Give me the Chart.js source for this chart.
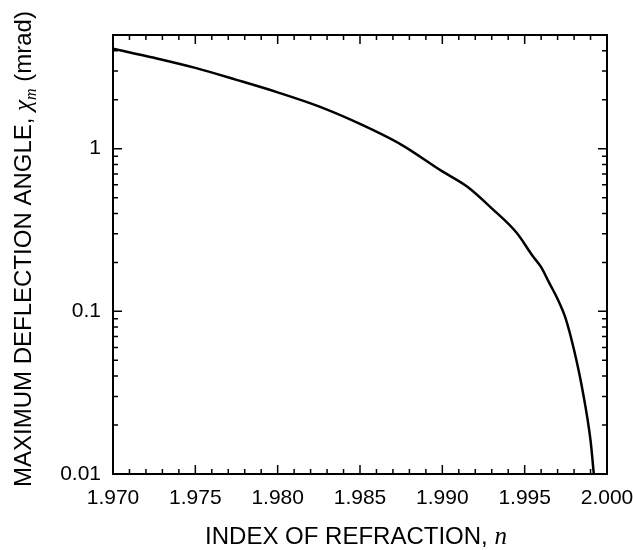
<!DOCTYPE html>
<html>
<head>
<meta charset="utf-8">
<script src="https://cdn.jsdelivr.net/npm/chart.js@4.4.0/dist/chart.umd.min.js"></script>
<style>
  body { margin: 0; background: #fff; }
</style>
</head>
<body>
<canvas id="myChart" width="633" height="550"></canvas>
<script>
// values
let refractionIndex = [1.970, 1.9725, 1.975, 1.9775, 1.980, 1.9825, 1.985, 1.9875, 1.990, 1.9915, 1.993, 1.9945, 1.9955, 1.996, 1.9965, 1.997, 1.9975, 1.998, 1.9985, 1.999, 1.9992];
let deflectionAngle = [4.12, 3.62, 3.14, 2.65, 2.22, 1.82, 1.42, 1.06, 0.725, 0.585, 0.43, 0.305, 0.218, 0.187, 0.149, 0.119, 0.0897, 0.0578, 0.0333, 0.0161, 0.0100];
let xTickLabels = [1.970, 1.975, 1.980, 1.985, 1.990, 1.995, 2.000];
let yTickLabels = [0.01, 0.1, 1];

let tickFont = { family: '"Liberation Sans", Arial, sans-serif', size: 21 };

// box, inward ticks on all four sides, and the axis titles
let frameTicks = {
  id: 'frameTicks',
  afterDatasetsDraw(chart) {
    let ctx = chart.ctx, a = chart.chartArea;
    let xs = chart.scales.x, ys = chart.scales.y;
    ctx.save();
    ctx.strokeStyle = '#000';
    ctx.lineWidth = 2;
    ctx.strokeRect(a.left, a.top, a.right - a.left, a.bottom - a.top);
    ctx.lineWidth = 1.5;
    ctx.beginPath();
    for (let i = 0; i <= 30; i++) {
      let px = xs.getPixelForValue(xs.min + i * 0.001);
      let len = i % 5 == 0 ? 9 : 5;
      ctx.moveTo(px, a.bottom); ctx.lineTo(px, a.bottom - len);
      ctx.moveTo(px, a.top); ctx.lineTo(px, a.top + len);
    }
    yTickLabels.forEach(d => {
      for (let k = 1; k <= 9; k++) {
        let v = k * d;
        if (v > ys.max) break;
        let py = ys.getPixelForValue(v);
        let len = k == 1 ? 9 : 5;
        ctx.moveTo(a.left, py); ctx.lineTo(a.left + len, py);
        ctx.moveTo(a.right, py); ctx.lineTo(a.right - len, py);
      }
    });
    ctx.stroke();
    ctx.restore();
  },
  afterDraw(chart) {
    let ctx = chart.ctx;
    let sans = '24px "Liberation Sans", Arial, sans-serif';
    let ital = 'italic 25px "Liberation Serif", "Times New Roman", serif';
    let sub = 'italic 16px "Liberation Serif", "Times New Roman", serif';
    ctx.save();
    ctx.fillStyle = '#000';
    ctx.textBaseline = 'alphabetic';

    // x title
    let xParts = [['INDEX OF REFRACTION, ', sans, 0], ['n', ital, 0]];
    drawParts(ctx, xParts, 356, 544);

    // y title, rotated
    ctx.translate(31, 249);
    ctx.rotate(-Math.PI / 2);
    let yParts = [['MAXIMUM DEFLECTION ANGLE, ', sans, 0], ['\u03C7', ital, 0], ['m', sub, 5], [' (mrad)', sans, 0]];
    drawParts(ctx, yParts, 0, 0);
    ctx.restore();
  }
};

function drawParts(ctx, parts, cx, baseY) {
  let total = 0;
  parts.forEach(p => { ctx.font = p[1]; total += ctx.measureText(p[0]).width; });
  let x = cx - total / 2;
  parts.forEach(p => {
    ctx.font = p[1];
    ctx.textAlign = 'left';
    ctx.fillText(p[0], x, baseY + p[2]);
    x += ctx.measureText(p[0]).width;
  });
}

let myChart = document.getElementById('myChart').getContext('2d');

let deflectionChart = new Chart(myChart, {
  type: 'line',
  data: {
    datasets: [{
      data: refractionIndex.map((n, i) => ({ x: n, y: deflectionAngle[i] })),
      borderColor: '#000',
      borderWidth: 2.5,
      pointRadius: 0,
      cubicInterpolationMode: 'monotone',
      fill: false
    }]
  },
  plugins: [frameTicks],
  options: {
    responsive: false,
    animation: false,
    layout: { padding: { top: 35, right: 26, left: 0, bottom: 0 } },
    plugins: {
      legend: { display: false },
      tooltip: { enabled: false }
    },
    scales: {
      x: {
        type: 'linear',
        min: 1.970,
        max: 2.000,
        grid: { display: false, drawTicks: false },
        border: { display: false },
        afterBuildTicks: s => { s.ticks = xTickLabels.map(v => ({ value: v })); },
        afterFit: s => { s.height = 76; s.paddingLeft = 0; s.paddingRight = 0; },
        ticks: {
          color: '#000',
          font: tickFont,
          padding: 12,
          maxRotation: 0,
          autoSkip: false,
          callback: v => v.toFixed(3)
        }
      },
      y: {
        type: 'logarithmic',
        min: 0.01,
        max: 5,
        grid: { display: false, drawTicks: false },
        border: { display: false },
        afterBuildTicks: s => { s.ticks = yTickLabels.map(v => ({ value: v })); },
        afterFit: s => { s.width = 113; s.paddingTop = 0; s.paddingBottom = 0; },
        ticks: {
          color: '#000',
          font: tickFont,
          padding: 12,
          autoSkip: false,
          callback: v => String(v)
        }
      }
    }
  }
})
</script>
</body>
</html>
